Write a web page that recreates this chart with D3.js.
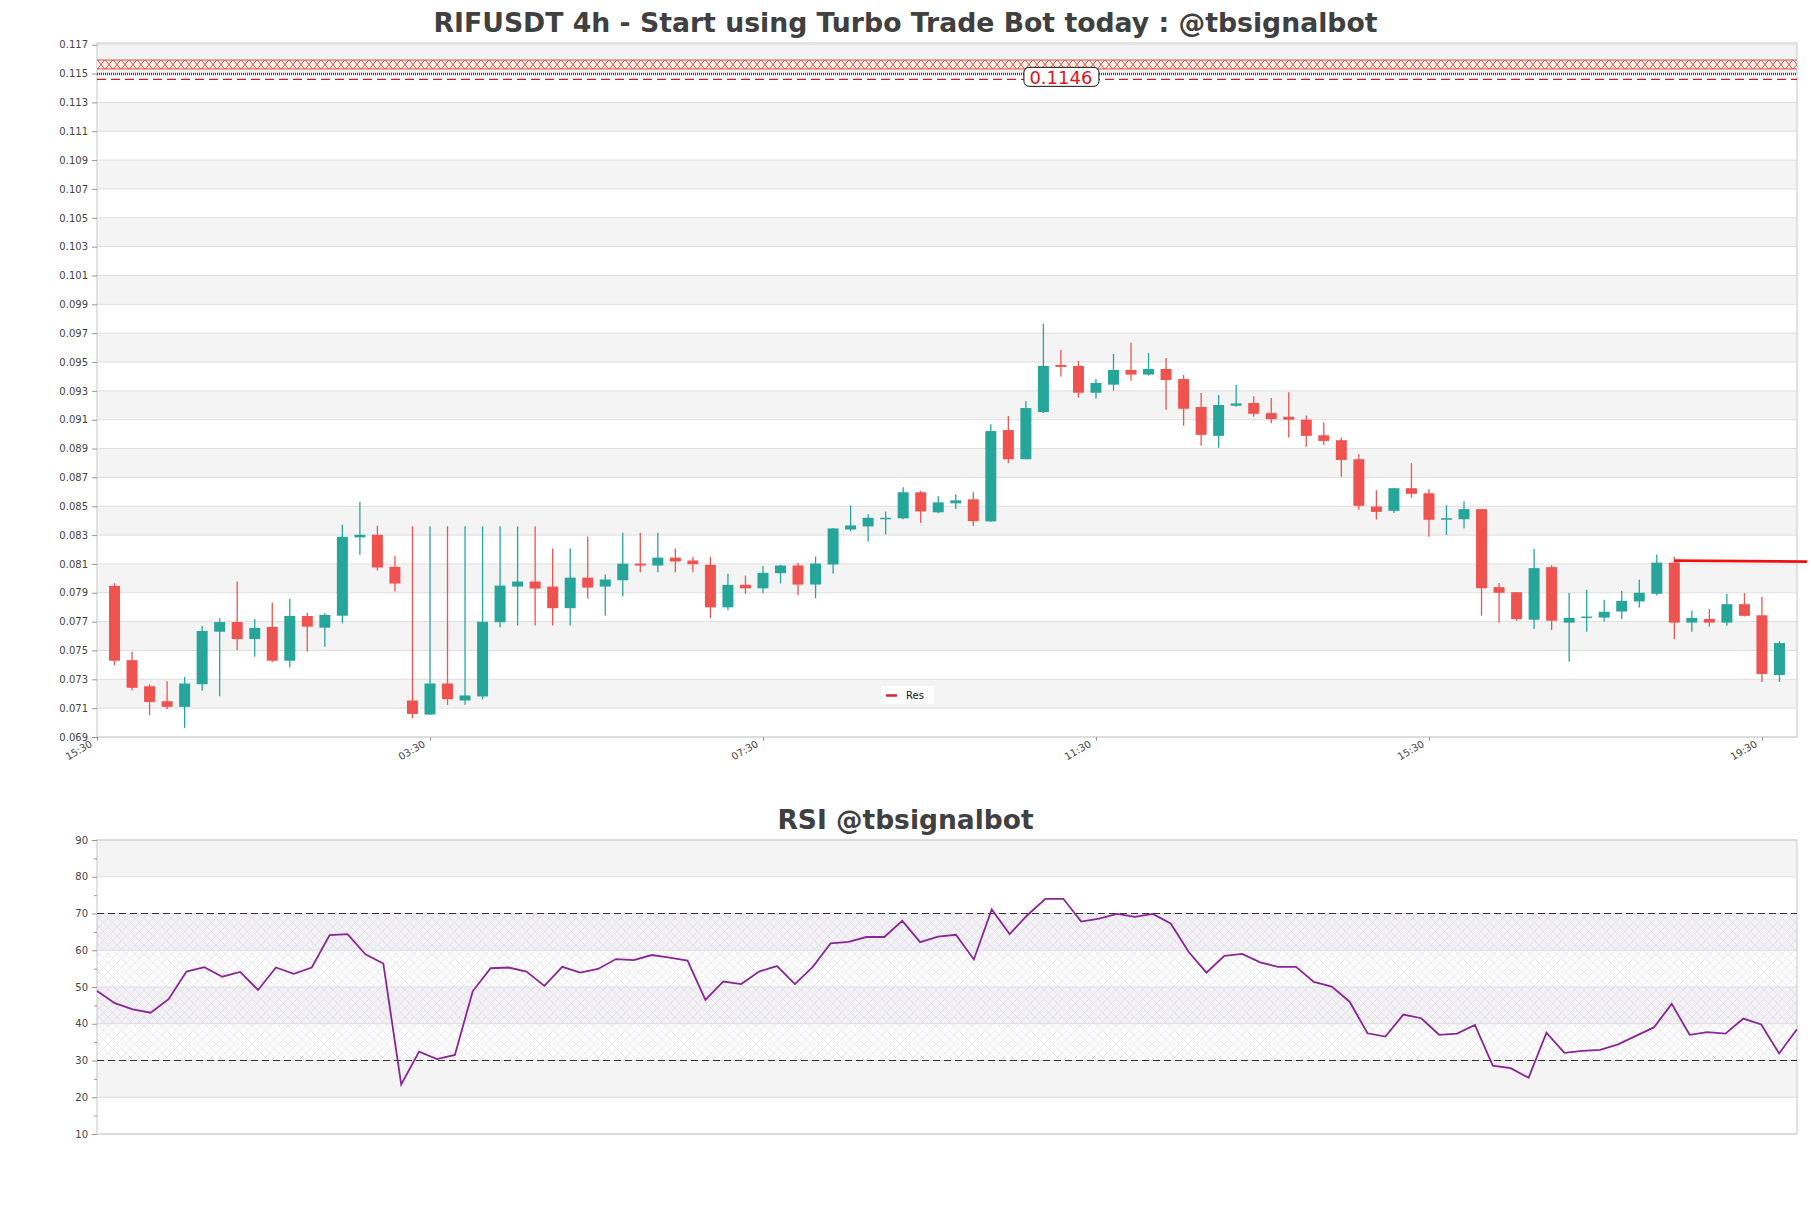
<!DOCTYPE html>
<html><head><meta charset="utf-8">
<script src="https://cdn.jsdelivr.net/npm/d3@7"></script>
<style>body{margin:0;background:#fff} svg{display:block} text{font-family:"DejaVu Sans",sans-serif}</style>
</head><body>
<svg id="c" width="1811" height="1208"></svg>
<script>
// ---------- DATA ----------
const openV  = [0.07948,0.07433,0.07252,0.07148,0.07109,0.07266,0.07630,0.07697,0.07579,0.07663,
0.07429,0.07739,0.07658,0.07741,0.08284,0.08302,0.08080,0.07153,0.07056,0.07271,
0.07153,0.07181,0.07696,0.07943,0.07978,0.07943,0.07793,0.08005,0.07943,0.07987,
0.08102,0.08089,0.08144,0.08124,0.08094,0.07799,0.07955,0.07931,0.08036,0.08089,
0.07957,0.08096,0.08339,0.08360,0.08411,0.08416,0.08597,0.08458,0.08520,0.08548,
0.08395,0.09028,0.08826,0.09153,0.09480,0.09473,0.09287,0.09343,0.09445,0.09413,
0.09452,0.09382,0.09188,0.08988,0.09197,0.09216,0.09146,0.09120,0.09100,0.08992,
0.08958,0.08826,0.08498,0.08468,0.08625,0.08590,0.08408,0.08410,0.08480,0.07939,
0.07904,0.07713,0.08078,0.07693,0.07728,0.07728,0.07770,0.07840,0.07893,0.08109,
0.07693,0.07719,0.07693,0.07821,0.07744,0.07330];
const highV  = [0.07966,0.07491,0.07266,0.07287,0.07317,0.07670,0.07723,0.07978,0.07718,0.07832,
0.07857,0.07762,0.07758,0.08372,0.08532,0.08365,0.08156,0.08361,0.08361,0.08361,
0.08361,0.08361,0.08361,0.08361,0.08361,0.08207,0.08207,0.08290,0.08026,0.08317,
0.08317,0.08317,0.08207,0.08148,0.08149,0.08032,0.08019,0.08084,0.08094,0.08108,
0.08152,0.08350,0.08506,0.08444,0.08464,0.08631,0.08608,0.08569,0.08583,0.08597,
0.09069,0.09125,0.09229,0.09765,0.09584,0.09508,0.09382,0.09556,0.09633,0.09563,
0.09528,0.09410,0.09285,0.09271,0.09341,0.09262,0.09250,0.09290,0.09130,0.09080,
0.08976,0.08861,0.08611,0.08625,0.08798,0.08618,0.08507,0.08535,0.08480,0.07967,
0.07904,0.08203,0.08092,0.07898,0.07921,0.07851,0.07914,0.07991,0.08165,0.08149,
0.07775,0.07788,0.07893,0.07898,0.07870,0.07563];
const lowV   = [0.07398,0.07225,0.07051,0.07092,0.06963,0.07220,0.07183,0.07503,0.07456,0.07419,
0.07384,0.07491,0.07526,0.07688,0.08163,0.08054,0.07908,0.07028,0.07052,0.07123,
0.07123,0.07162,0.07661,0.07673,0.07673,0.07673,0.07673,0.07860,0.07742,0.07876,
0.08042,0.08042,0.08042,0.08042,0.07725,0.07778,0.07894,0.07897,0.07964,0.07883,
0.07862,0.08033,0.08328,0.08256,0.08305,0.08409,0.08383,0.08451,0.08481,0.08363,
0.08390,0.08798,0.08826,0.09146,0.09399,0.09253,0.09246,0.09301,0.09371,0.09406,
0.09169,0.09058,0.08919,0.08905,0.09190,0.09120,0.09076,0.08976,0.08912,0.08925,
0.08704,0.08475,0.08408,0.08454,0.08558,0.08288,0.08302,0.08348,0.07740,0.07692,
0.07706,0.07648,0.07641,0.07421,0.07630,0.07700,0.07719,0.07798,0.07881,0.07577,
0.07630,0.07665,0.07672,0.07735,0.07282,0.07282];
const closeV = [0.07429,0.07241,0.07143,0.07109,0.07271,0.07635,0.07697,0.07579,0.07656,0.07429,
0.07739,0.07665,0.07746,0.08288,0.08302,0.08075,0.07964,0.07060,0.07271,0.07162,
0.07188,0.07699,0.07950,0.07978,0.07929,0.07793,0.08005,0.07936,0.07992,0.08102,
0.08089,0.08144,0.08117,0.08098,0.07799,0.07955,0.07931,0.08038,0.08089,0.07957,
0.08103,0.08346,0.08367,0.08420,0.08420,0.08597,0.08464,0.08527,0.08541,0.08397,
0.09021,0.08826,0.09181,0.09473,0.09466,0.09287,0.09355,0.09445,0.09413,0.09452,
0.09375,0.09176,0.08995,0.09202,0.09213,0.09141,0.09104,0.09100,0.08988,0.08953,
0.08821,0.08503,0.08461,0.08625,0.08586,0.08406,0.08417,0.08480,0.07932,0.07900,
0.07717,0.08071,0.07706,0.07726,0.07735,0.07768,0.07844,0.07900,0.08109,0.07693,
0.07726,0.07693,0.07821,0.07740,0.07337,0.07551];
const rsiV = [48.9,45.6,43.9,43.0,46.7,54.2,55.4,52.8,54.1,49.2,
55.3,53.6,55.3,64.1,64.4,58.9,56.4,23.5,32.4,30.4,
31.5,48.9,55.1,55.3,54.2,50.3,55.5,53.9,54.9,57.6,
57.3,58.7,58.0,57.2,46.5,51.5,50.8,54.2,55.7,50.8,
55.5,61.9,62.3,63.6,63.6,68.0,62.2,63.7,64.2,57.5,
71.1,64.4,69.6,74.0,74.0,67.8,68.6,69.9,69.1,69.9,
67.3,59.6,53.9,58.5,59.0,56.7,55.5,55.5,51.4,50.1,
46.0,37.4,36.5,42.5,41.5,37.0,37.3,39.7,28.6,27.9,
25.3,37.6,32.1,32.6,32.9,34.4,36.7,39.0,45.4,37.0,
37.7,37.3,41.4,39.8,31.9,38.5];
const priceTicks = [0.069,0.071,0.073,0.075,0.077,0.079,0.081,0.083,0.085,0.087,0.089,0.091,
0.093,0.095,0.097,0.099,0.101,0.103,0.105,0.107,0.109,0.111,0.113,0.115,0.117];
const rsiTicks = [10,20,30,40,50,60,70,80,90];
const rsiMinorTicks = [15,25,35,45,55,65,75,85];
const xTickIdx = [-1,18,37,56,75,94];
const xTickLabels = ["15:30","03:30","07:30","11:30","15:30","19:30"];
const resZone = [0.11532,0.11594];
const resDotted = 0.11497;
const resDashed = 0.1146;
const resLabel = "0.1146";
const resLineIdx = [89,96.57];
const resLineVal = [0.08123,0.08116];
const rsiLevels = [30,70];

// ---------- LAYOUT ----------
const svg = d3.select("#c");
const L=97, R=1797;
const mainTop=43, mainBot=737;
const rsiTop=840, rsiBot=1134;
const x = d3.scaleLinear().domain([-1,96]).range([L,R]);
const y = d3.scaleLinear().domain([0.069,0.11712]).range([mainBot,mainTop]);
const xr = d3.scaleLinear().domain([0,95]).range([L,R]);
const yr = d3.scaleLinear().domain([10,90]).range([rsiBot,rsiTop]);
const GREEN="#26a69a", RED="#ef5350";

const defs = svg.append("defs");
const hp = defs.append("pattern").attr("id","rsiHatch").attr("patternUnits","userSpaceOnUse")
  .attr("width",9).attr("height",9);
hp.append("path").attr("d","M0,0L9,9M9,0L0,9").attr("stroke","#d3c8dc").attr("stroke-width",0.55).attr("fill","none");
const bandH = y(resZone[0]) - y(resZone[1]);
const PW = 8;
const xp = defs.append("pattern").attr("id","xHatch").attr("patternUnits","userSpaceOnUse")
  .attr("width",PW).attr("height",bandH).attr("y",y(resZone[1])).attr("x",L);
xp.append("rect").attr("width",PW).attr("height",bandH).attr("fill","#fbf1e3");
xp.append("path").attr("d",`M0.5,0L${PW-0.5},${bandH}M${PW-0.5},0L0.5,${bandH}`).attr("stroke","#d9242c").attr("stroke-width",0.8).attr("fill","none");

// ---------- MAIN PANEL ----------
const g = svg.append("g");
for (let i=1;i<priceTicks.length-1;i+=2){
  g.append("rect").attr("x",L).attr("width",R-L)
   .attr("y",y(priceTicks[i+1])).attr("height",y(priceTicks[i])-y(priceTicks[i+1])).attr("fill","#f4f4f4");
}
g.selectAll(".gl").data(priceTicks).join("line")
  .attr("x1",L).attr("x2",R).attr("y1",d=>y(d)).attr("y2",d=>y(d)).attr("stroke","#dedede").attr("stroke-width",1);
g.append("rect").attr("x",L).attr("y",mainTop).attr("width",R-L).attr("height",mainBot-mainTop)
  .attr("fill","none").attr("stroke","#d0d0d0").attr("stroke-width",1.2);

// y axis
const ya = d3.axisLeft(y).tickValues(priceTicks).tickFormat(d3.format(".3f")).tickSize(5).tickPadding(4);
const yg = svg.append("g").attr("transform",`translate(${L},0)`).call(ya);
yg.select(".domain").remove();
yg.selectAll(".tick line").attr("stroke","#999");
yg.selectAll("text").attr("font-size",10).attr("fill","#444").attr("font-family","DejaVu Sans");

// x axis
const xa = d3.axisBottom(x).tickValues(xTickIdx).tickFormat("").tickSize(4);
const xg = svg.append("g").attr("transform",`translate(0,${mainBot})`).call(xa);
xg.select(".domain").remove();
xg.selectAll(".tick line").attr("stroke","#999");
svg.append("g").selectAll("text").data(xTickIdx).join("text")
  .attr("transform",d=>`translate(${x(d)-4},${mainBot+9}) rotate(-30)`)
  .attr("text-anchor","end").attr("font-size",10).attr("fill","#444")
  .text((d,i)=>xTickLabels[i]);

// resistance zone
g.append("rect").attr("x",L).attr("width",R-L).attr("y",y(resZone[1])).attr("height",bandH).attr("fill","url(#xHatch)");
g.append("line").attr("x1",L).attr("x2",R).attr("y1",y(resZone[1])).attr("y2",y(resZone[1])).attr("stroke","#d9242c").attr("stroke-width",0.8);
g.append("line").attr("x1",L).attr("x2",R).attr("y1",y(resZone[0])).attr("y2",y(resZone[0])).attr("stroke","#d9242c").attr("stroke-width",0.8);
g.append("line").attr("x1",L).attr("x2",R).attr("y1",y(resDotted)).attr("y2",y(resDotted))
  .attr("stroke","#c8101a").attr("stroke-width",2.6).attr("stroke-dasharray","1,1");
g.append("line").attr("x1",L).attr("x2",R).attr("y1",y(resDashed)).attr("y2",y(resDashed))
  .attr("stroke","#e3121c").attr("stroke-width",1.3).attr("stroke-dasharray","9,5");

// candles
const idx = d3.range(openV.length);
const cg = g.append("g");
cg.selectAll(".wick").data(idx).join("line")
  .attr("x1",i=>x(i)).attr("x2",i=>x(i)).attr("y1",i=>y(highV[i])).attr("y2",i=>y(lowV[i]))
  .attr("stroke",i=>closeV[i]>=openV[i]?GREEN:RED).attr("stroke-width",1.3);
cg.selectAll(".body").data(idx).join("rect")
  .attr("x",i=>x(i)-5.5).attr("width",11)
  .attr("y",i=>y(Math.max(openV[i],closeV[i])))
  .attr("height",i=>Math.max(1.5,Math.abs(y(openV[i])-y(closeV[i]))))
  .attr("fill",i=>closeV[i]>=openV[i]?GREEN:RED);

// res line
svg.append("line").attr("x1",x(resLineIdx[0])).attr("x2",x(resLineIdx[1]))
  .attr("y1",y(resLineVal[0])).attr("y2",y(resLineVal[1])).attr("stroke","#ee1111").attr("stroke-width",2.6);

// label 0.1146
const lx = x(54), ly = y(resDashed)-2;
svg.append("rect").attr("x",lx-37).attr("y",ly-10).attr("width",75).attr("height",19).attr("rx",5)
  .attr("fill","#fff").attr("stroke","#111").attr("stroke-width",1);
svg.append("text").attr("x",lx).attr("y",ly+6.5).attr("text-anchor","middle").attr("font-size",18)
  .attr("fill","#e3121c").text(resLabel);

// legend
svg.append("rect").attr("x",881).attr("y",686).attr("width",53).attr("height",18).attr("fill","#fff");
svg.append("line").attr("x1",886).attr("x2",897).attr("y1",695.5).attr("y2",695.5).attr("stroke","#d9242c").attr("stroke-width",2.5);
svg.append("text").attr("x",906).attr("y",699).attr("font-size",10).attr("fill","#111").text("Res");

// title
svg.append("text").attr("x",905.5).attr("y",32).attr("text-anchor","middle").attr("font-size",26.7)
  .attr("font-weight","bold").attr("fill","#404040").text("RIFUSDT 4h - Start using Turbo Trade Bot today : @tbsignalbot");

// ---------- RSI PANEL ----------
const rg = svg.append("g");
[20,40,60,80].forEach(b=>{
  rg.append("rect").attr("x",L).attr("width",R-L).attr("y",yr(b+10)).attr("height",yr(b)-yr(b+10))
    .attr("fill",(b===40||b===60)?"#f2f1f4":"#f4f4f4");
});
rg.append("rect").attr("x",L).attr("width",R-L).attr("y",yr(70)).attr("height",yr(30)-yr(70)).attr("fill","url(#rsiHatch)").attr("opacity",0.75);
rg.selectAll(".rgl").data(rsiTicks).join("line")
  .attr("x1",L).attr("x2",R).attr("y1",d=>yr(d)).attr("y2",d=>yr(d)).attr("stroke","#dedede");
rg.append("rect").attr("x",L).attr("y",rsiTop).attr("width",R-L).attr("height",rsiBot-rsiTop)
  .attr("fill","none").attr("stroke","#d0d0d0").attr("stroke-width",1.2);
rsiLevels.forEach(v=>{
  rg.append("line").attr("x1",L).attr("x2",R).attr("y1",yr(v)).attr("y2",yr(v))
   .attr("stroke","#333").attr("stroke-width",1.2).attr("stroke-dasharray","7,4");
});
const ra = d3.axisLeft(yr).tickValues(rsiTicks).tickSize(5).tickPadding(4);
const rag = svg.append("g").attr("transform",`translate(${L},0)`).call(ra);
rag.select(".domain").remove();
rag.selectAll(".tick line").attr("stroke","#999");
rag.selectAll("text").attr("font-size",10).attr("fill","#444").attr("font-family","DejaVu Sans");
const ram = d3.axisLeft(yr).tickValues(rsiMinorTicks).tickSize(3).tickFormat("");
const ramg = svg.append("g").attr("transform",`translate(${L},0)`).call(ram);
ramg.select(".domain").remove();
ramg.selectAll(".tick line").attr("stroke","#999");

rg.append("path").datum(rsiV)
  .attr("d",d3.line().x((d,i)=>xr(i)).y(d=>yr(d)))
  .attr("fill","none").attr("stroke","#8a2596").attr("stroke-width",1.8);

svg.append("text").attr("x",905.5).attr("y",829).attr("text-anchor","middle").attr("font-size",26.5)
  .attr("font-weight","bold").attr("fill","#404040").text("RSI @tbsignalbot");
</script>
</body></html>
